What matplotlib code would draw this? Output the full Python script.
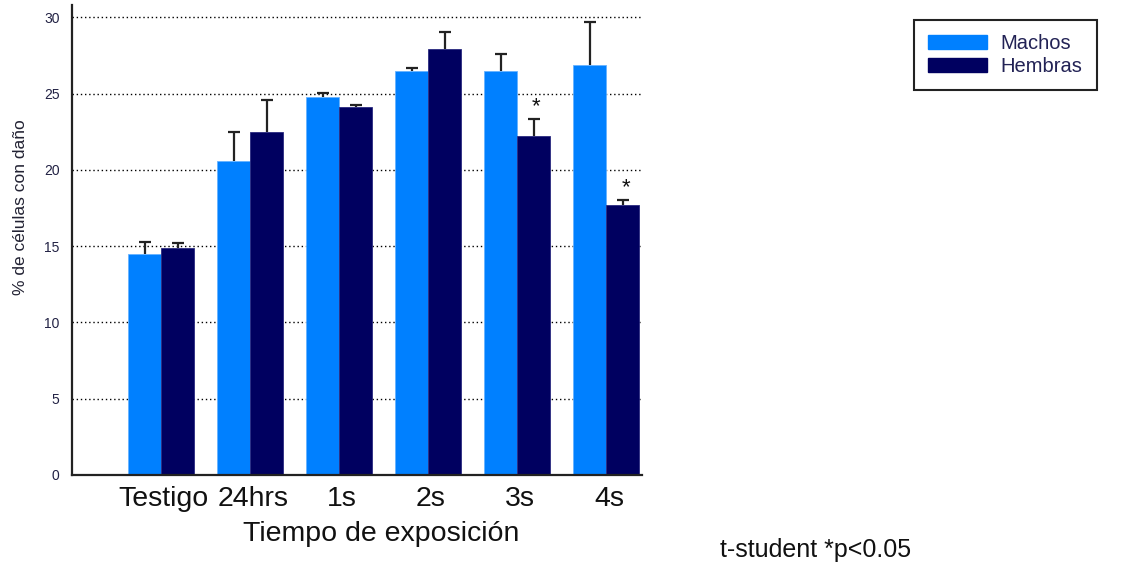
import numpy as np
import matplotlib.pyplot as plt
from matplotlib.patches import Patch

plt.rcParams['font.family'] = ['Liberation Sans', 'DejaVu Sans']

# Porcentaje de células con daño por tiempo de exposición
grupos = ['Testigo', '24hrs', '1s', '2s', '3s', '4s']
machos = [14.5, 20.6, 24.8, 26.5, 26.5, 26.9]
machos_err = [0.8, 1.9, 0.25, 0.15, 1.1, 2.8]
hembras = [14.9, 22.5, 24.1, 27.9, 22.2, 17.7]
hembras_err = [0.3, 2.1, 0.15, 1.15, 1.1, 0.3]
significativo = [False, False, False, False, True, True]

color_machos = '#0080ff'
color_hembras = '#000060'

fig = plt.figure(figsize=(11.34, 5.66), dpi=100)
ax = fig.add_axes([72 / 1134, 1 - 475 / 566, 570 / 1134, 470 / 566])

x = np.arange(1, len(grupos) + 1)
w = 0.37
err_kw = dict(ecolor='#222222', elinewidth=1.6, capsize=4.5, capthick=1.6)

bm = ax.bar(x - w / 2, machos, w, color=color_machos, edgecolor='#66b3ff', linewidth=0.6,
            yerr=[np.zeros(len(machos)), machos_err], error_kw=err_kw, zorder=2)
bh = ax.bar(x + w / 2, hembras, w, color=color_hembras, edgecolor='#2a2a80', linewidth=0.6,
            yerr=[np.zeros(len(hembras)), hembras_err], error_kw=err_kw, zorder=2)

# solo se muestra la barra de error hacia arriba, sin tope inferior
for cont in (bm, bh):
    caps = cont.errorbar.lines[1]
    caps[0].set_visible(False)

# asteriscos de diferencia significativa sobre las hembras
for xi, h, e, s in zip(x, hembras, hembras_err, significativo):
    if s:
        ax.text(xi + w / 2 + 0.03, h + e + 0.45, '*', ha='center', va='baseline',
                fontsize=16, color='#111111')

ax.set_xlim(0, 6.4)
ax.set_ylim(0, 30.8)
ax.set_yticks([0, 5, 10, 15, 20, 25, 30])
ax.set_xticks(x + 0.03)
ax.set_xticklabels(grupos, fontsize=20.5, color='#111111')
ax.tick_params(axis='x', length=0, pad=8)
ax.tick_params(axis='y', length=0, pad=9, labelsize=10, labelcolor='#222244')

ax.set_axisbelow(True)
ax.yaxis.grid(True, color='black', linestyle=(0, (1, 2)), linewidth=1)
for g in ax.get_ygridlines()[:1]:
    g.set_visible(False)

for s in ['top', 'right']:
    ax.spines[s].set_visible(False)
for s in ['left', 'bottom']:
    ax.spines[s].set_linewidth(1.6)
    ax.spines[s].set_color('#222222')

ax.set_ylabel('% de células con daño', fontsize=12.5, color='#222233', va='center')
ax.yaxis.set_label_coords(-0.091, 0.57)
ax.set_xlabel('Tiempo de exposición', fontsize=20.5, color='#111111', va='center')
ax.xaxis.set_label_coords(0.542, -0.125)

handles = [Patch(facecolor=color_machos, edgecolor=color_machos),
           Patch(facecolor=color_hembras, edgecolor=color_hembras)]
leg = fig.legend(handles, ['Machos', 'Hembras'], loc='upper left',
                 bbox_to_anchor=(914 / 1134, 1 - 20 / 566), fontsize=14.5,
                 handlelength=2.9, handleheight=0.75, labelspacing=0.2,
                 handletextpad=0.7, borderpad=0.7, borderaxespad=0,
                 fancybox=False, framealpha=1, edgecolor='#222222')
leg.get_frame().set_linewidth(1.5)
for t in leg.get_texts():
    t.set_color('#222255')

fig.text(720 / 1134, 1 - 550 / 566, 't-student *p<0.05', fontsize=18,
         color='#111111', va='center', ha='left')

fig.savefig('out.png', dpi=100)
